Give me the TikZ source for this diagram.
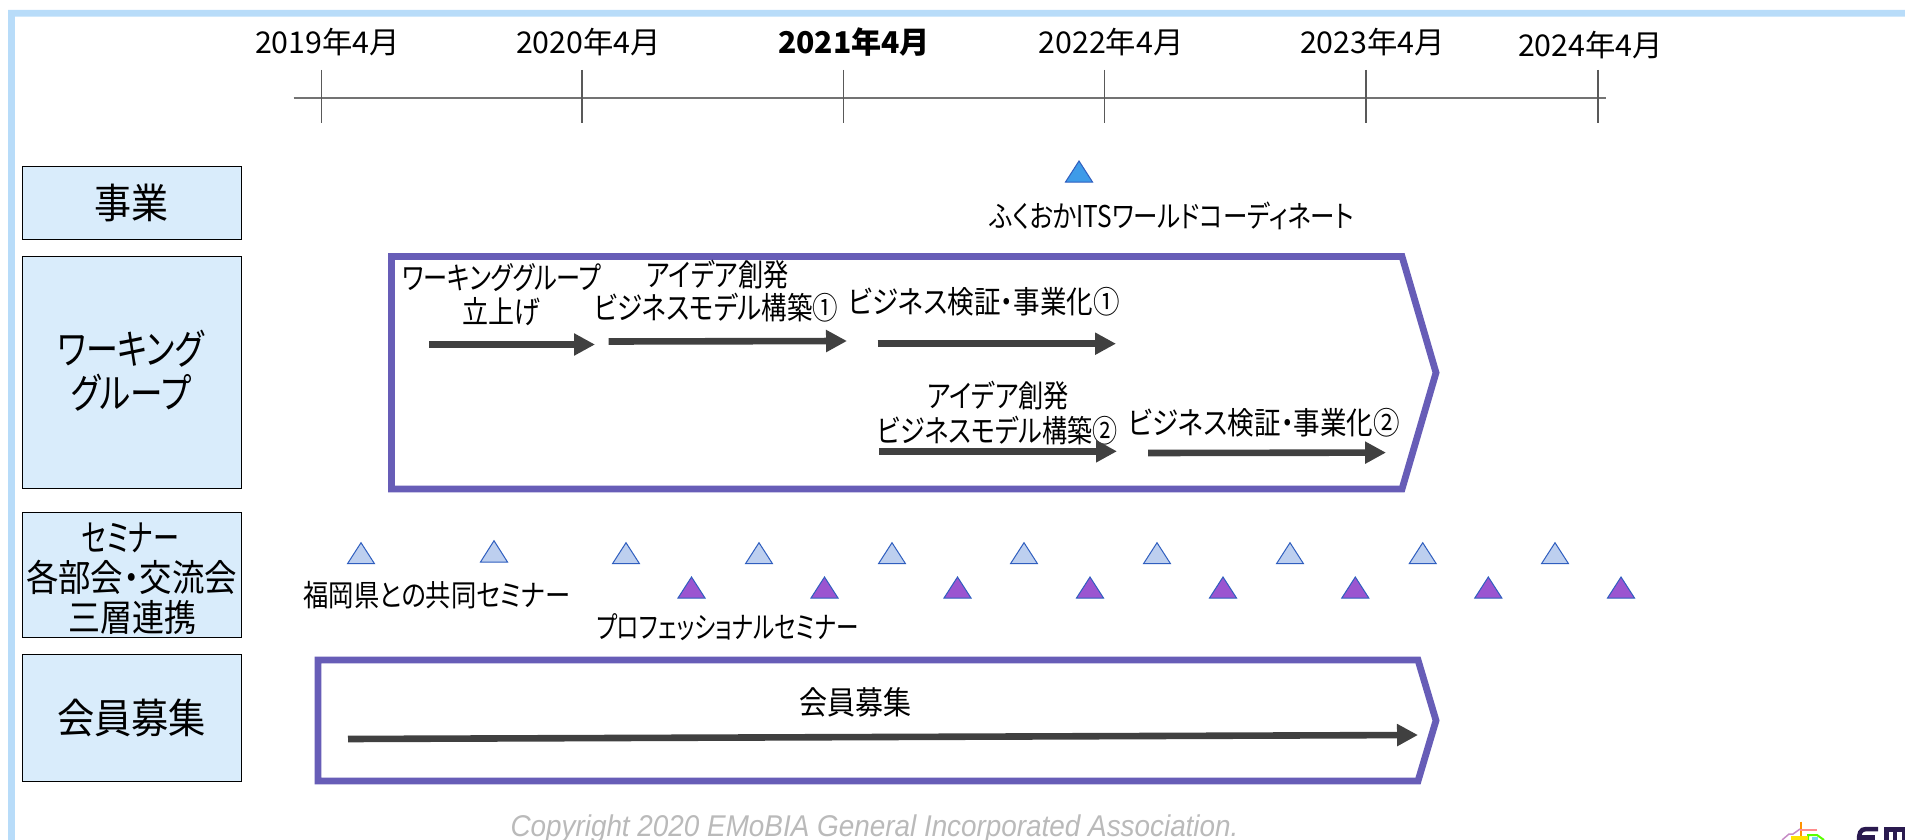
\documentclass[tikz,border=0pt]{standalone}
\usepackage{graphicx}
\usepackage{fontspec}
\setmainfont{Noto Sans CJK JP}[RawFeature=+palt]
\newfontfamily\copyfont{Liberation Sans}
\usetikzlibrary{arrows.meta}
\definecolor{edgeblue}{HTML}{B8DCF9}
\definecolor{boxfill}{HTML}{D9ECFB}
\definecolor{framepurple}{HTML}{675DB7}
\definecolor{arrowgray}{HTML}{404040}
\definecolor{triedge}{HTML}{2F5EBF}
\definecolor{trilight}{HTML}{BDCFEF}
\definecolor{tripurple}{HTML}{9B55D0}
\definecolor{tribright}{HTML}{3E9BE8}
\definecolor{logonavy}{HTML}{2A1A4F}
\newsavebox\fwbox
\newcommand\fw[2]{\sbox\fwbox{#2}\pgfmathsetmacro\fwr{#1/\wd\fwbox}\scalebox{\fwr}[1]{\usebox\fwbox}}
\newcommand\fs[1]{\fontsize{#1}{#1}\selectfont}
\tikzset{
  txt/.style={inner sep=0pt,outer sep=0pt,anchor=center,text=black},
  catbox/.style={draw=black,line width=1pt,fill=boxfill},
  spanframe/.style={draw=framepurple,line width=6.8pt,line join=miter,miter limit=10},
  barrow/.style={draw=arrowgray,line width=6.6pt,-{Triangle[length=21pt,width=21pt]}},
  tick/.style={draw=black!65,line width=1.1pt},
  tri/.style={draw=triedge,line width=1pt,line join=miter},
}
\newcommand\catbox[5]{\path[catbox] (#2,#3) rectangle (#4,#5) node[pos=.5,inner sep=0pt] (#1) {};}
\newcommand\tria[4]{\path[tri,fill=#1] (#2-13.5,#4) -- (#2,#3) -- (#2+13.5,#4) -- cycle;}
\begin{document}
\begin{tikzpicture}[x=1pt,y=-1pt]
\useasboundingbox (0,0) rectangle (1905,840);
\clip (0,0) rectangle (1905,840);
\fill[white] (0,0) rectangle (1905,840);
% outer edge
\fill[edgeblue] (8,840) -- (8,10) -- (1905,10) -- (1905,16.7) -- (14.8,16.7) -- (14.8,840) -- cycle;

% timeline
\coordinate (tlL) at (293.5,98);
\coordinate (tlR) at (1606,98);
\draw[draw=black!55,line width=1.5pt] (tlL) -- (tlR);
\foreach \n/\x in {a/321.5,b/582,c/843.3,d/1104.5,e/1366,f/1598}{
  \coordinate (t\n1) at (\x,70);
  \coordinate (t\n2) at (\x,123);
  \draw[tick] (t\n1) -- (t\n2);
}
\node[txt,font=\fs{30}] (y19) at (327.5,42.5) {\fw{145}{2019年4月}};
\node[txt,font=\fs{30}] (y20) at (588.5,42.5) {\fw{145}{2020年4月}};
\node[txt,font=\fs{30}\bfseries] (y21) at (854,42.5) {\fw{152}{2021年4月}};
\node[txt,font=\fs{30}] (y22) at (1111,42.5) {\fw{145}{2022年4月}};
\node[txt,font=\fs{30}] (y23) at (1372.5,42.5) {\fw{145}{2023年4月}};
\node[txt,font=\fs{30}] (y24) at (1590.5,45) {\fw{145}{2024年4月}};

% category boxes
\catbox{bA}{22}{166}{241}{239.5}
\catbox{bB}{22}{256}{241}{488.5}
\catbox{bC}{22}{512.5}{241}{637.5}
\catbox{bD}{22}{654.5}{241}{781.5}
\node[txt,font=\fs{41}] (cA) at (131.5,203) {\fw{74}{事業}};
\node[txt,font=\fs{41}] (cB1) at (131,349) {\fw{146}{ワーキング}};
\node[txt,font=\fs{41}] (cB2) at (131,393) {\fw{120}{グループ}};
\node[txt,font=\fs{37}] (cC1) at (130.5,538) {\fw{97}{セミナー}};
\node[txt,font=\fs{37}] (cC2) at (131.5,577) {\fw{211}{各部会・交流会}};
\node[txt,font=\fs{37}] (cC3) at (132,617) {\fw{128}{三層連携}};
\node[txt,font=\fs{41}] (cD) at (131.5,718) {\fw{149}{会員募集}};

% top event
\tria{tribright}{1079}{161}{182}
\node[txt,font=\fs{30}] (ev) at (1172,216) {\fw{364}{ふくおかITSワールドコーディネート}};

% working group frame
\draw[spanframe] (391.5,256.5) -- (1402,256.5) -- (1436,372.7) -- (1402,489) -- (391.5,489) -- cycle;
\node[txt,font=\fs{31}] (w1) at (502,278) {\fw{199}{ワーキンググループ}};
\node[txt,font=\fs{31}] (w2) at (501,312) {\fw{78}{立上げ}};
\node[txt,font=\fs{31}] (w3) at (717.5,274.5) {\fw{142}{アイデア創発}};
\node[txt,font=\fs{31}] (w4) at (716,307.5) {\fw{244}{ビジネスモデル構築①}};
\node[txt,font=\fs{31}] (w5) at (984,301.5) {\fw{272}{ビジネス検証・事業化①}};
\node[txt,font=\fs{31}] (w6) at (998,395.5) {\fw{142}{アイデア創発}};
\node[txt,font=\fs{31}] (w7) at (997.5,430.5) {\fw{240}{ビジネスモデル構築②}};
\node[txt,font=\fs{31}] (w8) at (1264,422.5) {\fw{272}{ビジネス検証・事業化②}};
\foreach \n/\xa/\ya/\xb/\yb in {p/429/344.5/595/344.5, q/608.6/341.5/847/341, r/877.5/343.7/1116/343.7, s/879/451.3/1117/451.3, u/1148/453/1386/452.6}{
  \coordinate (\n1) at (\xa,\ya);
  \coordinate (\n2) at (\xb,\yb);
  \draw[barrow] (\n1) -- (\n2);
}

% seminar triangles
\tria{trilight}{361}{542.7}{563.7}
\tria{trilight}{494}{540.7}{562}
\foreach \x in {626,759,892,1024,1157,1290,1422.7,1555}{\tria{trilight}{\x}{542.7}{563.7}}
\foreach \x in {691.5,824.5,957.5,1090,1223,1355.3,1488.3,1621}{\tria{tripurple}{\x}{577}{598}}
\node[txt,font=\fs{30}] (s1) at (437,595) {\fw{267}{福岡県との共同セミナー}};
\node[txt,font=\fs{30}] (s2) at (727.5,627) {\fw{262}{プロフェッショナルセミナー}};

% member frame
\draw[spanframe] (318,660) -- (1418,660) -- (1436,720.5) -- (1418,781) -- (318,781) -- cycle;
\node[txt,font=\fs{32}] (m1) at (855.5,702) {\fw{112}{会員募集}};
\coordinate (m2) at (348,739);
\coordinate (m3) at (1418,735);
\draw[barrow] (m2) -- (m3);

% copyright
\node[txt,font=\fs{30}\copyfont\itshape,text=black!27] (cp) at (874.5,828.5) {\fw{728}{Copyright 2020 EMoBIA General Incorporated Association.}};

% logo fragment cut off by the edge
\draw[draw=orange!85!yellow,line width=2pt] (1800.7,821.5) -- (1800.7,840);
\draw[draw=red!45,line width=1.5pt] (1800,830) -- (1817,830);
\draw[draw=violet!45,line width=1.5pt] (1782,840) -- (1789,834) -- (1793,834) -- (1800,829);
\draw[draw=green!65!yellow,line width=2pt] (1808,840) -- (1808,835) -- (1817,835) -- (1824,840);
\fill[yellow!85!orange] (1791,836) rectangle (1808,840);
\fill[cyan!55] (1812,837) rectangle (1818,840);
\draw[draw=logonavy,line width=4.5pt] (1878,829) -- (1866,829) .. controls (1860,829) and (1859,834) .. (1859,840);
\draw[draw=logonavy,line width=4.5pt] (1859,837.5) -- (1875,837.5);
\draw[draw=logonavy,line width=5pt] (1886,840) -- (1886,829) -- (1904,829) -- (1904,840);
\draw[draw=logonavy,line width=4pt] (1895,829) -- (1895,840);
\end{tikzpicture}
\end{document}
